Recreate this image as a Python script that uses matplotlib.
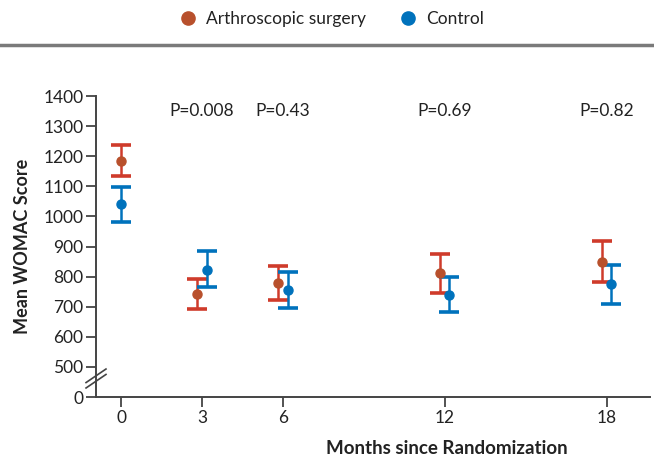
import matplotlib
matplotlib.use("Agg")
import matplotlib.pyplot as plt
from matplotlib.lines import Line2D

months = [0, 3, 6, 12, 18]
surg_mean = [1184, 741, 778, 811, 849]
surg_low = [1134, 691, 723, 746, 781]
surg_high = [1237, 792, 835, 876, 918]
ctrl_mean = [1041, 822, 754, 740, 775]
ctrl_low = [980, 766, 695, 681, 709]
ctrl_high = [1098, 884, 817, 798, 837]
offsets_s = [0, -0.17, -0.17, -0.17, -0.17]
offsets_c = [0, 0.17, 0.17, 0.17, 0.17]
p_labels = ["P=0.008", "P=0.43", "P=0.69", "P=0.82"]
p_months = [3, 6, 12, 18]
ytick_vals = [400, 500, 600, 700, 800, 900, 1000, 1100, 1200, 1300, 1400]
ytick_labels = ["0", "500", "600", "700", "800", "900", "1000", "1100", "1200", "1300", "1400"]

RED_BAR = "#CF3B2B"
RED_DOT = "#B8502C"
BLUE = "#0072BC"
TXT = "#222222"

plt.rcParams['font.family'] = ['Lato', 'DejaVu Sans']

fig = plt.figure(figsize=(6.54, 4.61), dpi=100)
ax = fig.add_axes([0.1468, 0.1388, 0.847, 0.6529])

def draw(off, mean, low, high, barc, dotc):
    xs = [m + o for m, o in zip(months, off)]
    yerr = [[m - l for m, l in zip(mean, low)], [h - m for m, h in zip(mean, high)]]
    ax.errorbar(xs, mean, yerr=yerr, fmt='none', ecolor=barc, elinewidth=1.8,
                capsize=7, capthick=2.6, zorder=2)
    ax.plot(xs, mean, 'o', color=dotc, markersize=6.5, zorder=3)

draw(offsets_s, surg_mean, surg_low, surg_high, RED_BAR, RED_DOT)
draw(offsets_c, ctrl_mean, ctrl_low, ctrl_high, BLUE, BLUE)

for m, t in zip(p_months, p_labels):
    ax.text(m, 1350, t, ha='center', va='center', fontsize=12.5, color=TXT)

ax.set_xlim(-0.93, 19.6)
ax.set_ylim(400, 1400)
ax.set_xticks(months)
ax.set_xticklabels([str(m) for m in months])
ax.set_yticks(ytick_vals)
ax.set_yticklabels(ytick_labels)
for s in ['top', 'right']:
    ax.spines[s].set_visible(False)
for s in ['left', 'bottom']:
    ax.spines[s].set_color('#444444')
    ax.spines[s].set_linewidth(1.4)
ax.tick_params(axis='both', direction='out', length=7, width=1.3, color='#444444',
               labelsize=12.5, labelcolor=TXT, pad=2)

# axis break marks
for dy in [0, 0.018]:
    ax.plot([-0.018, 0.018], [0.03 + dy, 0.075 + dy], transform=ax.transAxes,
            color='#444444', lw=1.2, clip_on=False, zorder=5)

ax.set_ylabel("Mean WOMAC Score", fontsize=13, fontweight='bold', color=TXT)
ax.yaxis.set_label_coords(-0.118, 0.5)
ax.set_xlabel("Months since Randomization", fontsize=13.5, fontweight='bold', color=TXT)
ax.xaxis.set_label_coords(0.634, -0.143)

# legend
handles = [Line2D([], [], marker='o', ls='none', color=RED_DOT, markersize=9.5),
           Line2D([], [], marker='o', ls='none', color=BLUE, markersize=9.5)]
fig.legend(handles, ["Arthroscopic surgery", "Control"], loc='center',
           bbox_to_anchor=(0.5, 0.958), ncol=2, frameon=False, fontsize=12.5,
           handletextpad=0.05, columnspacing=1.4, labelcolor=TXT)
fig.add_artist(Line2D([0, 1], [0.903, 0.903], transform=fig.transFigure,
                      color='#7a7a7a', lw=2.5))

fig.savefig("out.png", dpi=100)
